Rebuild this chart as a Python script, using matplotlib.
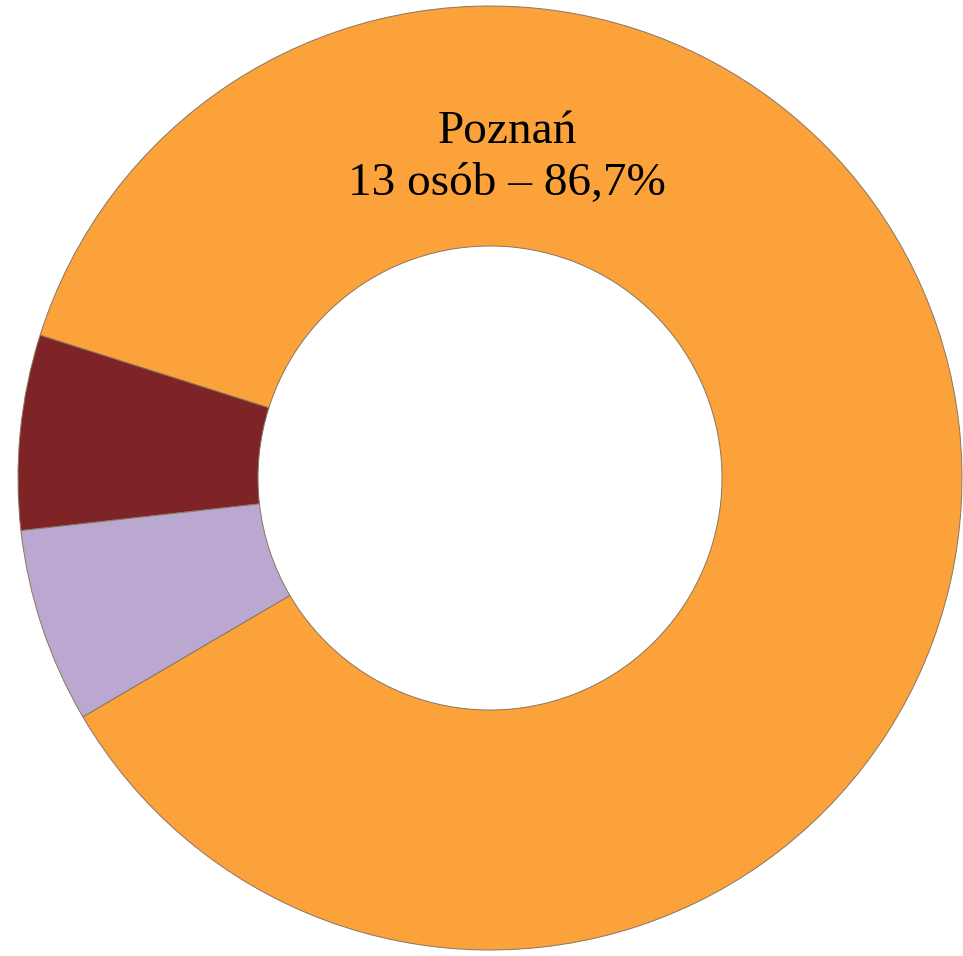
import matplotlib
matplotlib.use("Agg")
import matplotlib.pyplot as plt

labels = ["Poznań", "Inne 1", "Inne 2"]
counts = [13, 1, 1]
colors = ["#FBA23A", "#7E2426", "#BBA8D0"]
label_text = "Poznań\n13 osób – 86,7%"

W, H = 963, 956
fig = plt.figure(figsize=(W / 100, H / 100), dpi=100)
ax = fig.add_axes([0, 0, 1, 1])

cx, cy = 490, H - 478
R = 472
ring = 240

wedges, _ = ax.pie(counts, colors=colors, startangle=210.4, counterclock=True,
                   center=(cx, cy), radius=R, frame=True,
                   wedgeprops=dict(width=ring, edgecolor="#8a7560", linewidth=0.7))
ax.set_xlim(0, W)
ax.set_ylim(0, H)
ax.set_aspect("equal")
ax.axis("off")

ax.text(507, H - 158, label_text, ha="center", va="center",
        fontsize=34, family="Liberation Serif", linespacing=1.3, color="black")

fig.savefig("out.png", dpi=100)
